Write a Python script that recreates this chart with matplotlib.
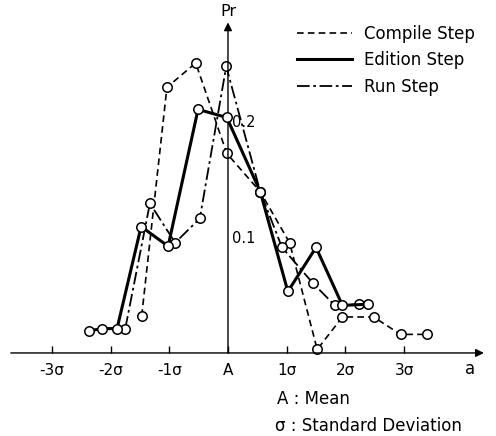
import matplotlib.pyplot as plt
from matplotlib.lines import Line2D

# x in units of sigma (A = mean at 0), y = probability
compile_x = [-1.47, -1.04, -0.55, -0.02, 0.55, 1.05, 1.52, 1.95, 2.48, 2.94, 3.39]
compile_y = [0.032, 0.229, 0.250, 0.172, 0.139, 0.095, 0.003, 0.031, 0.031, 0.016, 0.016]

edition_x = [-2.37, -2.15, -1.89, -1.48, -1.02, -0.51, -0.02, 0.55, 1.02, 1.50, 1.95, 2.38]
edition_y = [0.019, 0.021, 0.021, 0.109, 0.092, 0.210, 0.203, 0.139, 0.053, 0.091, 0.041, 0.042]

run_x = [-1.75, -1.33, -0.90, -0.48, -0.03, 0.55, 0.92, 1.45, 1.82, 2.23]
run_y = [0.021, 0.129, 0.095, 0.116, 0.247, 0.139, 0.091, 0.060, 0.041, 0.042]

x_ticks = [-3, -2, -1, 0, 1, 2, 3]
x_labels = ['-3σ', '-2σ', '-1σ', 'A', '1σ', '2σ', '3σ']
y_ticks = [0.1, 0.2]
y_labels = ['0.1', '0.2']
legend_labels = ['Compile Step', 'Edition Step', 'Run Step']

plt.rcParams['font.family'] = ['DejaVu Sans']

fig = plt.figure(figsize=(4.96, 4.36), dpi=100)
ax = fig.add_axes([0, 0, 1, 1])
ax.set_xlim(-3.884, 4.566)
ax.set_ylim(-0.0716, 0.3043)

marker = dict(marker='o', markersize=6.8, markerfacecolor='white',
              markeredgecolor='black', markeredgewidth=1.1, color='black')
ax.plot(compile_x, compile_y, lw=1.2, linestyle=(0, (4, 2.5)), zorder=3, **marker)
ax.plot(edition_x, edition_y, lw=2.2, linestyle='-', zorder=4, **marker)
ax.plot(run_x, run_y, lw=1.3, linestyle=(0, (7, 2, 1.5, 2)), zorder=3, **marker)

# axes drawn as arrows through the origin (A, 0)
for s in ['top', 'right', 'left', 'bottom']:
    ax.spines[s].set_visible(False)
ax.spines['bottom'].set_position(('data', 0))
ax.spines['right'].set_position(('data', 0))
ax.annotate('', xy=(4.36, 0), xytext=(-3.70, 0),
            arrowprops=dict(arrowstyle='-|>', color='black', lw=1.0,
                            mutation_scale=12, shrinkA=0, shrinkB=0))
ax.annotate('', xy=(0, 0.285), xytext=(0, 0),
            arrowprops=dict(arrowstyle='-|>', color='black', lw=1.0,
                            mutation_scale=12, shrinkA=0, shrinkB=0))

ax.set_xticks(x_ticks)
ax.set_xticklabels(x_labels)
ax.tick_params(axis='x', direction='in', length=5, width=1, pad=7, labelsize=11)
ax.yaxis.tick_right()
ax.set_yticks(y_ticks)
ax.set_yticklabels(y_labels)
ax.tick_params(axis='y', length=0, pad=3, labelsize=10.5)

ax.text(0, 1 - 11 / 436, 'Pr', transform=ax.get_xaxis_transform(),
        ha='center', va='center', fontsize=11.5)
ax.text(470 / 496, 1 - 369 / 436, 'a', transform=ax.transAxes,
        ha='center', va='center', fontsize=12)

handles = [
    Line2D([], [], color='black', lw=1.2, linestyle=(0, (4, 2.5))),
    Line2D([], [], color='black', lw=2.2, linestyle='-'),
    Line2D([], [], color='black', lw=1.3, linestyle=(0, (7, 2, 1.5, 2))),
]
ax.legend(handles, legend_labels, loc='upper left',
          bbox_to_anchor=(297 / 496, 1 - 25 / 436), frameon=False,
          borderpad=0, borderaxespad=0, handlelength=3.3, handletextpad=0.7,
          labelspacing=0.5, fontsize=12)

ax.text(277 / 496, 1 - 399 / 436, 'A : Mean', transform=ax.transAxes,
        ha='left', va='center', fontsize=12)
ax.text(275 / 496, 1 - 426 / 436, 'σ : Standard Deviation', transform=ax.transAxes,
        ha='left', va='center', fontsize=12)

fig.savefig('out.png', dpi=100)
plt.close(fig)
